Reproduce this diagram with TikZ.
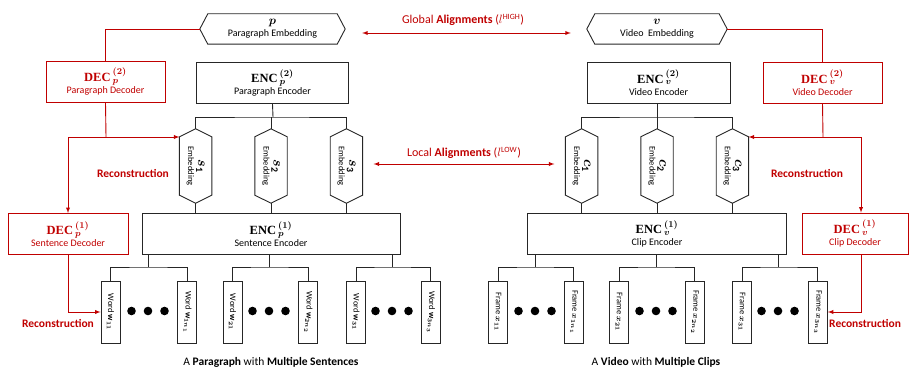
\documentclass[tikz,border=0pt]{standalone}
\usepackage{amsmath}
\usepackage{amssymb}
\usepackage{fontspec}
\setmainfont{Carlito}
\newfontfamily\encfont{Liberation Serif}
\usepackage{tikz}
\usetikzlibrary{positioning, arrows, calc}
\definecolor{decred}{RGB}{192,0,0}
\newcommand{\Enc}[2]{{\fontsize{12.5}{15}\selectfont{\encfont\bfseries ENC}\,$^{\boldsymbol{(#1)}}_{\boldsymbol{#2}}$}}
\newcommand{\Dec}[2]{{\fontsize{12.5}{15}\selectfont{\encfont\bfseries DEC}\,$^{\boldsymbol{(#1)}}_{\boldsymbol{#2}}$}}
\newcommand{\Emb}[2]{\rotatebox{-90}{\shortstack{$\boldsymbol{#1}_{\mathbf{#2}}$\\[-1pt]{\fontsize{8.5}{9}\selectfont Embedding}}}}
\newcommand{\Word}[1]{\rotatebox{-90}{Word $\mathbf{w}_{\boldsymbol{#1}}$}}
\newcommand{\Frame}[1]{\rotatebox{-90}{Frame $\boldsymbol{x}_{\boldsymbol{#1}}$}}
% hexagon outlines round plain nodes
\newcommand{\HexH}[1]{\draw[hexline] (#1.west) -- ([xshift=8pt]#1.north west)
    -- ([xshift=-8pt]#1.north east) -- (#1.east) -- ([xshift=-8pt]#1.south east)
    -- ([xshift=8pt]#1.south west) -- cycle;}
\newcommand{\HexV}[1]{\draw[hexline] (#1.north) -- ([yshift=-8pt]#1.north east)
    -- ([yshift=8pt]#1.south east) -- (#1.south) -- ([yshift=8pt]#1.south west)
    -- ([yshift=-8pt]#1.north west) -- cycle;}
\tikzset{
    encbox/.style={draw=black!85, line width=0.9pt, align=center, inner sep=0pt,
      minimum height=41pt, font=\fontsize{10}{12}\selectfont},
    decbox/.style={encbox, draw=decred, text=decred},
    hexline/.style={draw=black!85, line width=0.9pt},
    tophex/.style={align=center, inner sep=0pt, minimum height=30pt,
      font=\fontsize{10}{12}\selectfont},
    embhex/.style={inner sep=0pt, minimum width=32pt, minimum height=74pt,
      font=\fontsize{14}{15}\selectfont},
    wordbox/.style={draw=black!85, line width=0.9pt, inner sep=0pt,
      minimum width=19pt, minimum height=62pt, font=\fontsize{8.5}{9}\selectfont},
    tree/.style={draw=black!85, line width=0.9pt},
    recon/.style={draw=decred, line width=0.9pt},
    recontext/.style={text=decred, font=\fontsize{11.5}{13}\selectfont\bfseries},
    aligntext/.style={text=decred, font=\fontsize{12}{14}\selectfont},
    caption/.style={font=\fontsize{11.5}{13}\selectfont},
}

\begin{document}
\begin{tikzpicture}[x=1pt, y=-1pt, >=latex]
    \useasboundingbox (0,0) rectangle (909,369);

    % paragraph side
    \node[tophex, minimum width=145pt] (pemb) at (272.5,29)
      {{\fontsize{13}{13}\selectfont$\boldsymbol{p}$}\\ Paragraph Embedding};
    \HexH{pemb}
    \node[encbox, minimum width=152pt, below=18pt of pemb] (penc2) {\Enc{2}{p}\\ Paragraph Encoder};
    \node[decbox, minimum width=119pt] (pdec2) at (105.5,81.5) {\Dec{2}{p}\\ Paragraph Decoder};

    \node[embhex] (s2) at (271,166) {\Emb{s}{2}};
    \node[embhex, left=43pt of s2] (s1) {\Emb{s}{1}};
    \node[embhex, right=43pt of s2] (s3) {\Emb{s}{3}};
    \HexV{s1} \HexV{s2} \HexV{s3}

    \node[encbox, minimum width=258pt, below=10pt of s2] (penc1) {\Enc{1}{p}\\ Sentence Encoder};
    \node[decbox, minimum width=120pt] (pdec1) at (68,234) {\Dec{1}{p}\\ Sentence Decoder};

    \node[wordbox] (w11) at (110.5,312) {\Word{11}};
    \node[wordbox, right=57pt of w11] (w1n) {\Word{1n_1}};
    \node[wordbox] (w21) at (232.5,312) {\Word{21}};
    \node[wordbox, right=56pt of w21] (w2n) {\Word{2n_2}};
    \node[wordbox] (w31) at (356,312) {\Word{31}};
    \node[wordbox, right=55pt of w31] (w3n) {\Word{3n_3}};

    % video side
    \node[tophex, minimum width=140pt] (vemb) at (657,29)
      {{\fontsize{13}{13}\selectfont$\boldsymbol{v}$}\\ Video~ Embedding};
    \HexH{vemb}
    \node[encbox, minimum width=143pt] (venc2) at (658.5,82.5) {\Enc{2}{v}\\ Video Encoder};
    \node[decbox, minimum width=119pt] (vdec2) at (822.5,82.5) {\Dec{2}{v}\\ Video Decoder};

    \node[embhex] (c2) at (657,166) {\Emb{c}{2}};
    \node[embhex, left=43pt of c2] (c1) {\Emb{c}{1}};
    \node[embhex, right=43pt of c2] (c3) {\Emb{c}{3}};
    \HexV{c1} \HexV{c2} \HexV{c3}

    \node[encbox, minimum width=259pt, below=10pt of c2] (venc1) {\Enc{1}{v}\\ Clip Encoder};
    \node[decbox, minimum width=106pt] (vdec1) at (855,233.5) {\Dec{1}{v}\\ Clip Decoder};

    \node[wordbox] (x11) at (498,312) {\Frame{11}};
    \node[wordbox, right=56pt of x11] (x1n) {\Frame{1n_1}};
    \node[wordbox] (x21) at (619,312) {\Frame{21}};
    \node[wordbox, right=56pt of x21] (x2n) {\Frame{2n_2}};
    \node[wordbox] (x31) at (742,312) {\Frame{31}};
    \node[wordbox, right=56pt of x31] (x3n) {\Frame{3n_3}};

    % encoder trees
    \coordinate (pbus) at (273,117);
    \coordinate (vbus) at (657,117);
    \draw[tree] (penc2.south) -- (pbus);
    \draw[tree] (s1.north) |- (pbus) -| (s3.north);
    \draw[tree] (s2.north) -- (s2.north |- pbus);
    \draw[tree] (venc2.south -| vbus) -- (vbus);
    \draw[tree] (c1.north) |- (vbus) -| (c3.north);
    \draw[tree] (c2.north) -- (c2.north |- vbus);
    \draw[tree] (s1.south) -- (s1.south |- penc1.north);
    \draw[tree] (s2.south) -- (penc1.north);
    \draw[tree] (s3.south) -- (s3.south |- penc1.north);
    \draw[tree] (c1.south) -- (c1.south |- venc1.north);
    \draw[tree] (c2.south) -- (venc1.north);
    \draw[tree] (c3.south) -- (c3.south |- venc1.north);

    \coordinate (g1) at (148,267);
    \coordinate (g2) at (269,267);
    \coordinate (g3) at (392,267);
    \coordinate (h1) at (535,267);
    \coordinate (h2) at (656,267);
    \coordinate (h3) at (778,267);
    \draw[tree] (g1 |- penc1.south) -- (g1);
    \draw[tree] (g2 |- penc1.south) -- (g2);
    \draw[tree] (g3 |- penc1.south) -- (g3);
    \draw[tree] (h1 |- venc1.south) -- (h1);
    \draw[tree] (h2 |- venc1.south) -- (h2);
    \draw[tree] (h3 |- venc1.south) -- (h3);
    \draw[tree] (w11.north) |- (g1) -| (w1n.north);
    \draw[tree] (w21.north) |- (g2) -| (w2n.north);
    \draw[tree] (w31.north) |- (g3) -| (w3n.north);
    \draw[tree] (x11.north) |- (h1) -| (x1n.north);
    \draw[tree] (x21.north) |- (h2) -| (x2n.north);
    \draw[tree] (x31.north) |- (h3) -| (x3n.north);

    \foreach \gx in {148,269,392,535,656,778}
      \foreach \dx in {-16.5,0,16.5}
        \fill (\gx+\dx,311) circle (4.3pt);

    % reconstruction paths
    \coordinate (pjoin) at (106,137);
    \coordinate (pleft) at (68,137);
    \draw[recon] (pemb.west) -| (pdec2.north);
    \draw[recon] (pdec2.south) -- (pjoin);
    \draw[recon, ->] (pleft) -- (s1.west |- pjoin);
    \draw[recon, ->] (pleft) -- (pdec1.north);
    \draw[recon, ->] (pdec1.south) |- (w11.west);

    \coordinate (vjoin) at (823,137);
    \coordinate (vright) at (861,137);
    \draw[recon] (vemb.east) -| (vdec2.north);
    \draw[recon] (vdec2.south) -- (vjoin);
    \draw[recon, ->] (vright) -- (c3.east |- vjoin);
    \draw[recon, ->] (vright) -- (vright |- vdec1.north);
    \draw[recon, ->] (vdec1.south -| vright) |- (x3n.east);

    \node[recontext] (prec2) at (133,173) {Reconstruction};
    \node[recontext] (prec1) at (58,323) {Reconstruction};
    \node[recontext] (vrec2) at (807,173) {Reconstruction};
    \node[recontext, anchor=west, inner sep=0pt] (vrec1) at (829,323) {Reconstruction};

    % alignments
    \draw[recon, <->] ($(pemb.east)+(17,4)$) -- ($(vemb.west)+(-16,4)$);
    \draw[recon, <->] ($(s3.east)+(11,-2)$) -- ($(c1.west)+(-11,-2)$);
    \node[aligntext] (glob) at (463,20) {Global \textbf{Alignments} ($l^{\mathrm{HIGH}}$)};
    \node[aligntext] (loc) at (464,153) {Local \textbf{Alignments} ($l^{\mathrm{LOW}}$)};

    \node[caption] (pcap) at (271,362) {A \textbf{Paragraph} with \textbf{Multiple Sentences}};
    \node[caption] (vcap) at (656,362) {A \textbf{Video} with \textbf{Multiple Clips}};
\end{tikzpicture}
\end{document}
